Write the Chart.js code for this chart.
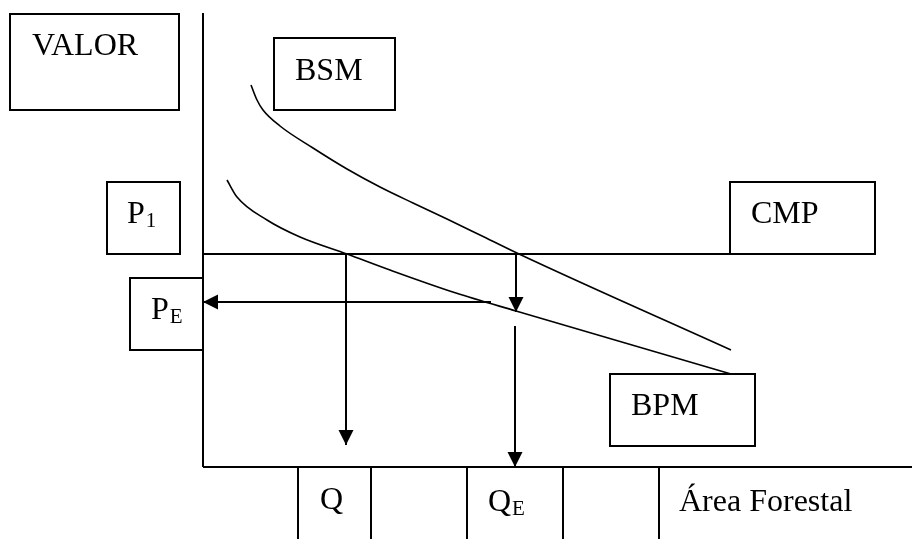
<!DOCTYPE html>
<html>
<head>
<meta charset="utf-8">
<script src="https://cdn.jsdelivr.net/npm/chart.js@4/dist/chart.umd.min.js"></script>
<style>
html,body{margin:0;padding:0;background:#fff;}
#wrap{width:912px;height:539px;position:relative;}
</style>
</head>
<body>
<div id="wrap"><canvas id="c"></canvas></div>
<script>
// Conceptual diagram coordinates (origin at the axes' intersection)
const xRange = [-203, 709];
const yRange = [-72, 467];

// Curves
const bsmX = [48, 54, 60, 77, 110, 144, 177, 210, 244, 277, 316, 528];
const bsmY = [382, 367, 357, 341, 319, 298, 280, 264, 248, 232, 213, 117];
const bpmX = [24, 34, 64, 97, 144, 187, 253, 313, 528];
const bpmY = [287, 270, 247, 230, 213, 197, 174, 156, 93];

// Levels
const P1 = 213;      // CMP level
const PE = 165;      // equilibrium price
const Q = 143;       // quantity at P1 on BPM
const QE = 312;      // equilibrium quantity
const cmpEnd = 527;
const yTop = 454;
const xEnd = 709;

// Boxes [x1, y1, x2, y2]
const boxNames = ['VALOR', 'BSM', 'P1', 'CMP', 'PE', 'BPM'];
const boxRects = [
  [-193, 357, -24, 453],
  [71, 357, 192, 429],
  [-96, 213, -23, 285],
  [527, 213, 672, 285],
  [-73, 117, 0, 189],
  [407, 21, 552, 93]
];
// Bottom category cell separators
const cellEdges = [95, 168, 264, 360, 456];

// Labels: [main, subscript, x, baseline]
const labelMain = ['VALOR', 'BSM', 'P', 'CMP', 'P', 'BPM', 'Q', 'Q', 'Área Forestal'];
const labelSub  = ['', '', '1', '', 'E', '', '', 'E', ''];
const labelX    = [-171, 92, -76, 548, -52, 428, 117, 285, 476];
const labelY    = [412, 387, 244, 244, 148, 52, -42, -44, -44];

const pts = (xs, ys) => xs.map((x, i) => ({x: x, y: ys[i]}));
const seg = (x1, y1, x2, y2) => [{x: x1, y: y1}, {x: x2, y: y2}];

const lineDs = (data, w, extra) => Object.assign({
  data: data, showLine: true, borderColor: '#000', borderWidth: w,
  pointRadius: 0, tension: 0, fill: false
}, extra || {});

const datasets = [
  lineDs(seg(0, 0, 0, yTop), 2),
  lineDs(seg(0, 0, xEnd, 0), 2),
  lineDs(seg(0, P1, cmpEnd, P1), 2),
  lineDs(pts(bsmX, bsmY), 1.6, {cubicInterpolationMode: 'monotone'}),
  lineDs(pts(bpmX, bpmY), 1.6, {cubicInterpolationMode: 'monotone'}),
  lineDs(seg(Q, P1, Q, 22), 2, {arrow: true}),
  lineDs(seg(QE + 1, P1, QE + 1, 155), 2, {arrow: true}),
  lineDs(seg(QE, 141, QE, 0), 2, {arrow: true}),
  lineDs(seg(288, PE, 0, PE), 2, {arrow: true})
];
cellEdges.forEach(x => datasets.push(lineDs(seg(x, 0, x, yRange[0] - 5), 2)));

const diagramPlugin = {
  id: 'diagram',
  afterDatasetsDraw(chart) {
    const ctx = chart.ctx;
    const xs = chart.scales.x, ys = chart.scales.y;
    const px = v => xs.getPixelForValue(v);
    const py = v => ys.getPixelForValue(v);
    ctx.save();
    // arrowheads
    chart.data.datasets.forEach(ds => {
      if (!ds.arrow) return;
      const a = ds.data[ds.data.length - 2], b = ds.data[ds.data.length - 1];
      const x1 = px(a.x), y1 = py(a.y), x2 = px(b.x), y2 = py(b.y);
      const ang = Math.atan2(y2 - y1, x2 - x1);
      const L = 15, H = 7.5;
      ctx.beginPath();
      ctx.moveTo(x2, y2);
      ctx.lineTo(x2 - L * Math.cos(ang) + H * Math.sin(ang), y2 - L * Math.sin(ang) - H * Math.cos(ang));
      ctx.lineTo(x2 - L * Math.cos(ang) - H * Math.sin(ang), y2 - L * Math.sin(ang) + H * Math.cos(ang));
      ctx.closePath();
      ctx.fillStyle = '#000';
      ctx.fill();
    });
    // boxes
    ctx.strokeStyle = '#000';
    ctx.lineWidth = 2;
    boxRects.forEach(r => {
      const x1 = px(r[0]), y1 = py(r[3]), x2 = px(r[2]), y2 = py(r[1]);
      ctx.fillStyle = '#fff';
      ctx.fillRect(x1, y1, x2 - x1, y2 - y1);
      ctx.strokeRect(x1, y1, x2 - x1, y2 - y1);
    });
    // labels
    ctx.fillStyle = '#000';
    ctx.textBaseline = 'alphabetic';
    ctx.textAlign = 'left';
    labelMain.forEach((t, i) => {
      const x = px(labelX[i]), y = py(labelY[i]);
      ctx.font = '32px "Liberation Serif", "Times New Roman", serif';
      ctx.fillText(t, x, y);
      if (labelSub[i]) {
        const w = ctx.measureText(t).width;
        ctx.font = '21px "Liberation Serif", "Times New Roman", serif';
        ctx.fillText(labelSub[i], x + w + 1, y + 4);
      }
    });
    ctx.restore();
  }
};

new Chart(document.getElementById('c'), {
  type: 'scatter',
  data: {datasets: datasets},
  options: {
    responsive: true,
    maintainAspectRatio: false,
    animation: false,
    layout: {padding: 0},
    plugins: {legend: {display: false}, tooltip: {enabled: false}},
    scales: {
      x: {type: 'linear', min: xRange[0], max: xRange[1], display: false},
      y: {type: 'linear', min: yRange[0], max: yRange[1], display: false}
    }
  },
  plugins: [diagramPlugin]
});
</script>
</body>
</html>
